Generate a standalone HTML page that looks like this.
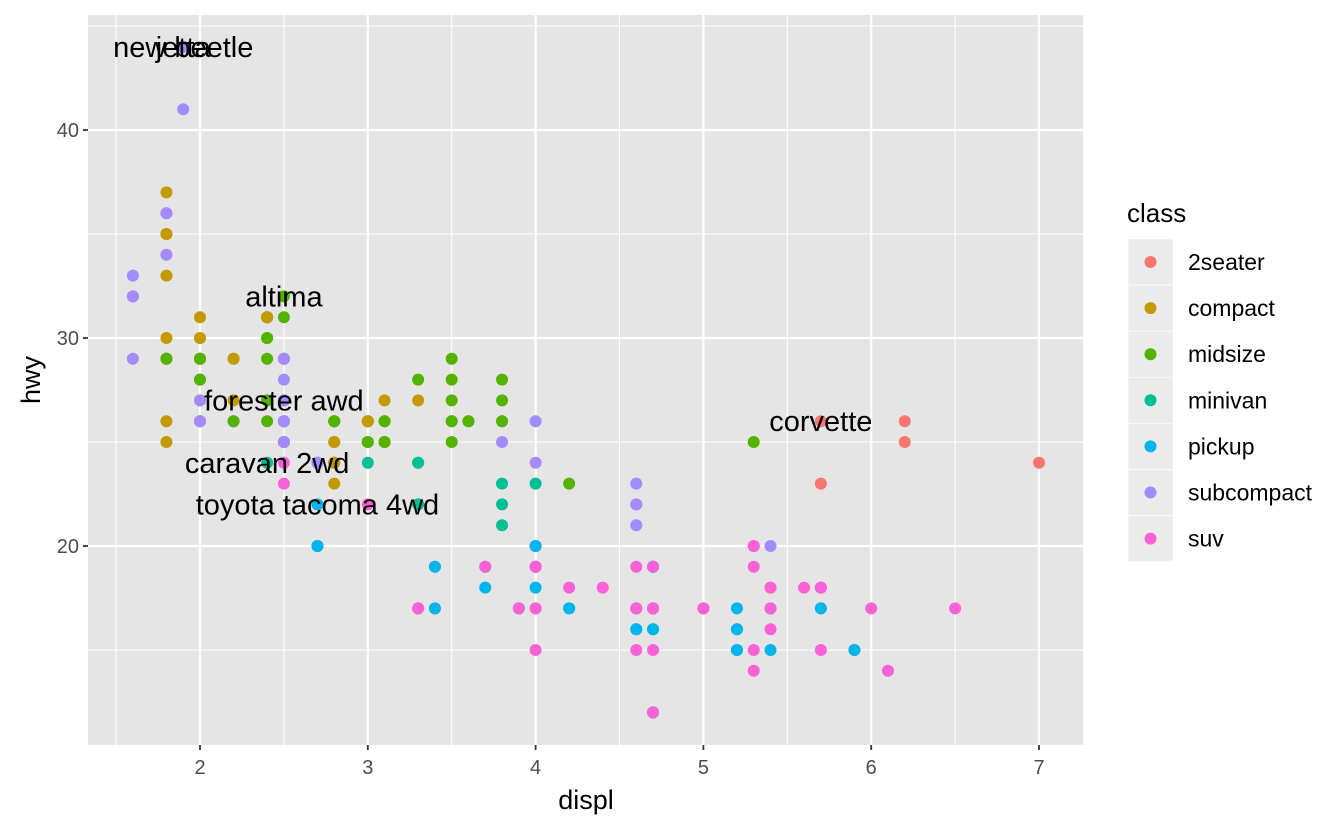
<!DOCTYPE html>
<html><head><meta charset="utf-8">
<style>
html,body{margin:0;padding:0;background:#fff;}
svg{display:block;font-family:"Liberation Sans",Arial,sans-serif;}
</style></head>
<body>
<svg id="chart" width="1344" height="830"></svg>
<script>
const classes = ["2seater","compact","midsize","minivan","pickup","subcompact","suv"];
const colors = ["#F8766D","#C49A00","#53B400","#00C094","#00B6EB","#A58AFF","#FB61D7"];
// class index per point
const pointClass = [
1,1,1,1,1,1,1, 1,1,1,1,1,1,1,1, 2,2,2,
6,6,6,6,6, 0,0,0,0,0, 6,6,6,6, 2,2,2,2,2,
3,3,3,3,3,3,3,3,3,3,3, 4,4,4,4,4,4,4,4,4, 6,6,6,6,6,6,6,
4,4,4,4,4,4,4,4,4,4, 6,6,6, 6,6,6,6,6,6, 4,4,4,4,4,4,4,
5,5,5,5,5,5,5,5,5, 5,5,5,5,5,5,5,5,5, 2,2,2,2,2,2,2, 5,5,5,5,5,5,5,
6,6,6,6,6,6,6,6, 6,6,6,6, 6,6,6, 6,6,6,6, 2,2,2,2,2,2,2, 2,2,2, 6,6,6,6,
2,2,2,2,2, 6,6,6,6,6,6, 5,5,5,5,5,5,5,5, 6,6,6,6,6,6, 2,2,2,2,2,2,2,
1,1,1,1,1,1,1, 1,1,1,1,1, 6,6, 4,4,4,4,4,4,4, 1,1,1,1,1, 1,1,1,1,1,1,1,1,1,
5,5,5,5,5,5, 2,2,2,2,2,2,2
];
const displ = [
1.8,1.8,2.0,2.0,2.8,2.8,3.1, 1.8,1.8,2.0,2.0,2.8,2.8,3.1,3.1, 2.8,3.1,4.2,
5.3,5.3,5.3,5.7,6.0, 5.7,5.7,6.2,6.2,7.0, 5.3,5.3,5.7,6.5, 2.4,2.4,3.1,3.5,3.6,
2.4,3.0,3.3,3.3,3.3,3.3,3.3,3.8,3.8,3.8,4.0, 3.7,3.7,3.9,3.9,4.7,4.7,4.7,5.2,5.2, 3.9,4.7,4.7,4.7,5.2,5.7,5.9,
4.7,4.7,4.7,4.7,4.7,4.7,5.2,5.2,5.7,5.9, 4.6,5.4,5.4, 4.0,4.0,4.0,4.0,4.6,5.0, 4.2,4.2,4.6,4.6,4.6,5.4,5.4,
3.8,3.8,4.0,4.0,4.6,4.6,4.6,4.6,5.4, 1.6,1.6,1.6,1.6,1.6,1.8,1.8,1.8,2.0, 2.4,2.4,2.4,2.4,2.5,2.5,3.3, 2.0,2.0,2.0,2.0,2.7,2.7,2.7,
3.0,3.7,4.0,4.7,4.7,4.7,5.7,6.1, 4.0,4.2,4.4,4.6, 5.4,5.4,5.4, 4.0,4.0,4.6,5.0, 2.4,2.4,2.5,2.5,3.5,3.5,3.5, 3.0,3.0,3.5, 3.3,3.3,4.0,5.6,
3.1,3.8,3.8,3.8,5.3, 2.5,2.5,2.5,2.5,2.5,2.5, 2.2,2.2,2.5,2.5,2.5,2.5,2.5,2.5, 2.7,2.7,3.4,3.4,4.0,4.7, 2.2,2.2,2.4,2.4,3.0,3.0,3.5,
2.2,2.2,2.4,2.4,3.0,3.0,3.3, 1.8,1.8,1.8,1.8,1.8, 4.7,5.7, 2.7,2.7,2.7,3.4,3.4,4.0,4.0, 2.0,2.0,2.0,2.0,2.8, 1.9,2.0,2.0,2.0,2.0,2.5,2.5,2.8,2.8,
1.9,1.9,2.0,2.0,2.5,2.5, 1.8,1.8,2.0,2.0,2.8,2.8,3.6
];
const hwy = [
29,29,31,30,26,26,27, 26,25,28,27,25,25,25,25, 24,25,23,
20,15,20,17,17, 26,23,26,25,24, 19,14,15,17, 27,30,26,29,26,
24,24,22,22,24,24,17,22,21,23,23, 19,18,17,17,19,19,12,17,15, 17,17,12,17,16,18,15,
16,12,17,17,16,12,15,16,17,15, 17,17,18, 17,19,17,19,19,17, 17,17,16,16,17,15,17,
26,25,26,24,21,22,23,22,20, 33,32,32,29,32,34,36,36,29, 26,27,30,31,26,26,28, 26,29,28,27,24,24,24,
22,19,20,17,12,19,18,14, 15,18,18,15, 17,16,18, 19,19,17,17, 29,27,31,32,27,26,26, 25,25,25, 17,17,20,18,
26,26,27,28,25, 25,24,27,25,26,23, 26,26,26,26,25,27,25,27, 20,20,19,17,20,17, 26,29,31,31,26,26,28,
27,29,31,31,26,26,27, 30,33,35,37,35, 15,18, 20,20,22,17,19,18,20, 29,26,29,29,24, 44,29,26,29,29,29,29,23,24,
44,41,29,26,28,29, 29,29,28,29,26,26,26
];
const labelText = ["new beetle","jetta","altima","forester awd","caravan 2wd","toyota tacoma 4wd","corvette"];
const labelX = [1.9,1.9,2.5,2.5,2.4,2.7,5.7];
const labelY = [44,44,32,27,24,22,26];
const xTicks = [2,3,4,5,6,7];
const yTicks = [20,30,40];

const NS="http://www.w3.org/2000/svg";
const svg=document.getElementById("chart");
const PL=88,PR=1083,PT=15,PB=745;
const sx=v=>200+(v-2)*167.8;
const sy=v=>546-(v-20)*20.8;
function mk(tag,attrs,parent){const e=document.createElementNS(NS,tag);for(const k in attrs)e.setAttribute(k,attrs[k]);(parent||svg).appendChild(e);return e;}

const panel=mk("rect",{x:PL,y:PT,width:PR-PL,height:PB-PT,fill:"#e5e5e5"});


const grid=mk("g",{});


for(let v=1.5;v<=7.01;v+=1){mk("line",{x1:sx(v),x2:sx(v),y1:PT,y2:PB,stroke:"#fff","stroke-width":1.1},grid);}
[15,25,35,45].forEach(v=>mk("line",{x1:PL,x2:PR,y1:sy(v),y2:sy(v),stroke:"#fff","stroke-width":1.1},grid));
xTicks.forEach(v=>mk("line",{x1:sx(v),x2:sx(v),y1:PT,y2:PB,stroke:"#fff","stroke-width":2.2},grid));
yTicks.forEach(v=>mk("line",{x1:PL,x2:PR,y1:sy(v),y2:sy(v),stroke:"#fff","stroke-width":2.2},grid));

const pts=mk("g",{});


for(let i=0;i<displ.length;i++){
  const c=mk("circle",{cx:sx(displ[i]),cy:sy(hwy[i]),r:6,fill:colors[pointClass[i]]},pts);
  
  
}
for(let i=0;i<labelText.length;i++){
  const t=mk("text",{x:sx(labelX[i]),y:sy(labelY[i])+10,"text-anchor":"middle","font-size":29,fill:"#000"});
  t.textContent=labelText[i];
  
  
}
xTicks.forEach(v=>{
  mk("line",{x1:sx(v),x2:sx(v),y1:PB,y2:PB+5,stroke:"#333","stroke-width":1.8});
  const t=mk("text",{x:sx(v),y:PB+29,"text-anchor":"middle","font-size":20,fill:"#4d4d4d"});
  t.textContent=v;
  
  
});
yTicks.forEach(v=>{
  mk("line",{x1:PL-5,x2:PL,y1:sy(v),y2:sy(v),stroke:"#333","stroke-width":1.8});
  const t=mk("text",{x:PL-9,y:sy(v)+7,"text-anchor":"end","font-size":20,fill:"#4d4d4d"});
  t.textContent=v;
  
  
});
const xt=mk("text",{x:586,y:809,"text-anchor":"middle","font-size":27,fill:"#000"});
xt.textContent="displ";


const yt=mk("text",{x:0,y:0,"text-anchor":"middle","font-size":27,fill:"#000",transform:"translate(40,380) rotate(-90)"});
yt.textContent="hwy";



const lg=mk("g",{});


const lt=mk("text",{x:1127,y:222,"font-size":26,fill:"#000"},lg);
lt.textContent="class";


classes.forEach((c,i)=>{
  const y0=239+i*46.1;
  const e=mk("g",{},lg);
  
  
  mk("rect",{x:1128,y:y0,width:45,height:46.1,fill:"#ebebeb",stroke:"#fff","stroke-width":0.6},e);
  mk("circle",{cx:1150.5,cy:y0+23,r:6,fill:colors[i]},e);
  const t=mk("text",{x:1188,y:y0+31,"font-size":23,fill:"#000"},e);
  t.textContent=c;
});
</script>
</body></html>
